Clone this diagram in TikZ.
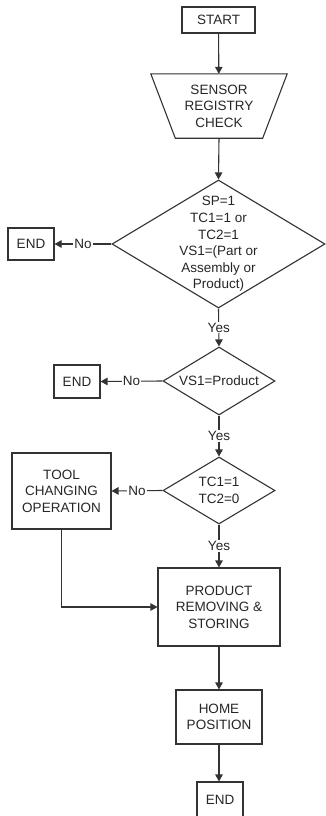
\documentclass[tikz,border=0pt]{standalone}
\usepackage{fontspec}
\setmainfont{Liberation Sans}
\usetikzlibrary{shapes.geometric,arrows.meta}
\begin{document}
\begin{tikzpicture}[x=1pt,y=-1pt,
  ink/.style={draw=black!80,line width=1.1pt},
  txtfont/.style={font=\fontsize{13.5}{16.6}\selectfont,text=black!85},
  box/.style={ink,rectangle,inner sep=0pt,align=center,txtfont},
  dia/.style={ink,diamond,inner sep=0pt},
  dtext/.style={align=center,txtfont,inner sep=0pt},
  lab/.style={fill=white,inner sep=1pt,txtfont},
  arr/.style={ink,-{Triangle[length=7pt,width=7.5pt]}},
  plain/.style={ink}]
\useasboundingbox (0,0) rectangle (326,816);
\node[box,minimum width=73pt,minimum height=26pt] (start) at (218.5,20) {START};
\node[align=center,txtfont,inner sep=0pt,minimum width=136pt,minimum height=64pt] (sensor) at (219,106) {SENSOR\\REGISTRY\\CHECK};
\draw[ink,line join=miter] (sensor.north west) -- (sensor.north east) -- ([xshift=-24.5pt]sensor.south east) -- ([xshift=24.5pt]sensor.south west) -- cycle;
\node[dia,minimum width=213pt,minimum height=128pt] (d1) at (218.5,244) {};
\node[dtext] at (d1.center) {SP=1\\TC1=1 or\\TC2=1\\VS1=(Part or\\Assembly or\\Product)};
\node[box,minimum width=46pt,minimum height=32pt] (end1) at (31,244) {END};
\node[dia,minimum width=112pt,minimum height=68pt] (d2) at (219,381) {};
\node[dtext] at (d2.center) {VS1=Product};
\node[box,minimum width=46pt,minimum height=33pt] (end2) at (77,381.5) {END};
\node[dia,minimum width=112pt,minimum height=67pt] (d3) at (219,490.5) {};
\node[dtext] at (d3.center) {TC1=1\\TC2=0};
\node[box,minimum width=99pt,minimum height=76pt] (tool) at (61.5,491) {TOOL\\CHANGING\\OPERATION};
\node[box,minimum width=122pt,minimum height=78pt] (product) at (219,607) {PRODUCT\\REMOVING \&\\STORING};
\node[box,minimum width=86pt,minimum height=54pt] (home) at (219,717) {HOME\\POSITION};
\node[box,minimum width=46pt,minimum height=35pt] (end3) at (220,799.5) {END};
\draw[arr] (start) -- (sensor);
\draw[arr] (sensor.south) -- (d1.north);
\draw[arr] (d1.west) -- node[lab]{No} (end1.east);
\draw[arr] (d1.south) -- node[lab]{Yes} (d2.north);
\draw[arr] (d2.west) -- node[lab]{No} (end2.east);
\draw[arr] (d2.south) -- node[lab]{Yes} (d3.north);
\draw[arr] (d3.west) -- node[lab]{No} (tool.east);
\draw[arr] (d3.south) -- node[lab]{Yes} (product.north);
\draw[arr] (tool.south) |- (product.west);
\draw[arr] (product.south) -- (home.north);
\draw[arr] (home.south) -- ([xshift=-1pt]end3.north);
\end{tikzpicture}
\end{document}
